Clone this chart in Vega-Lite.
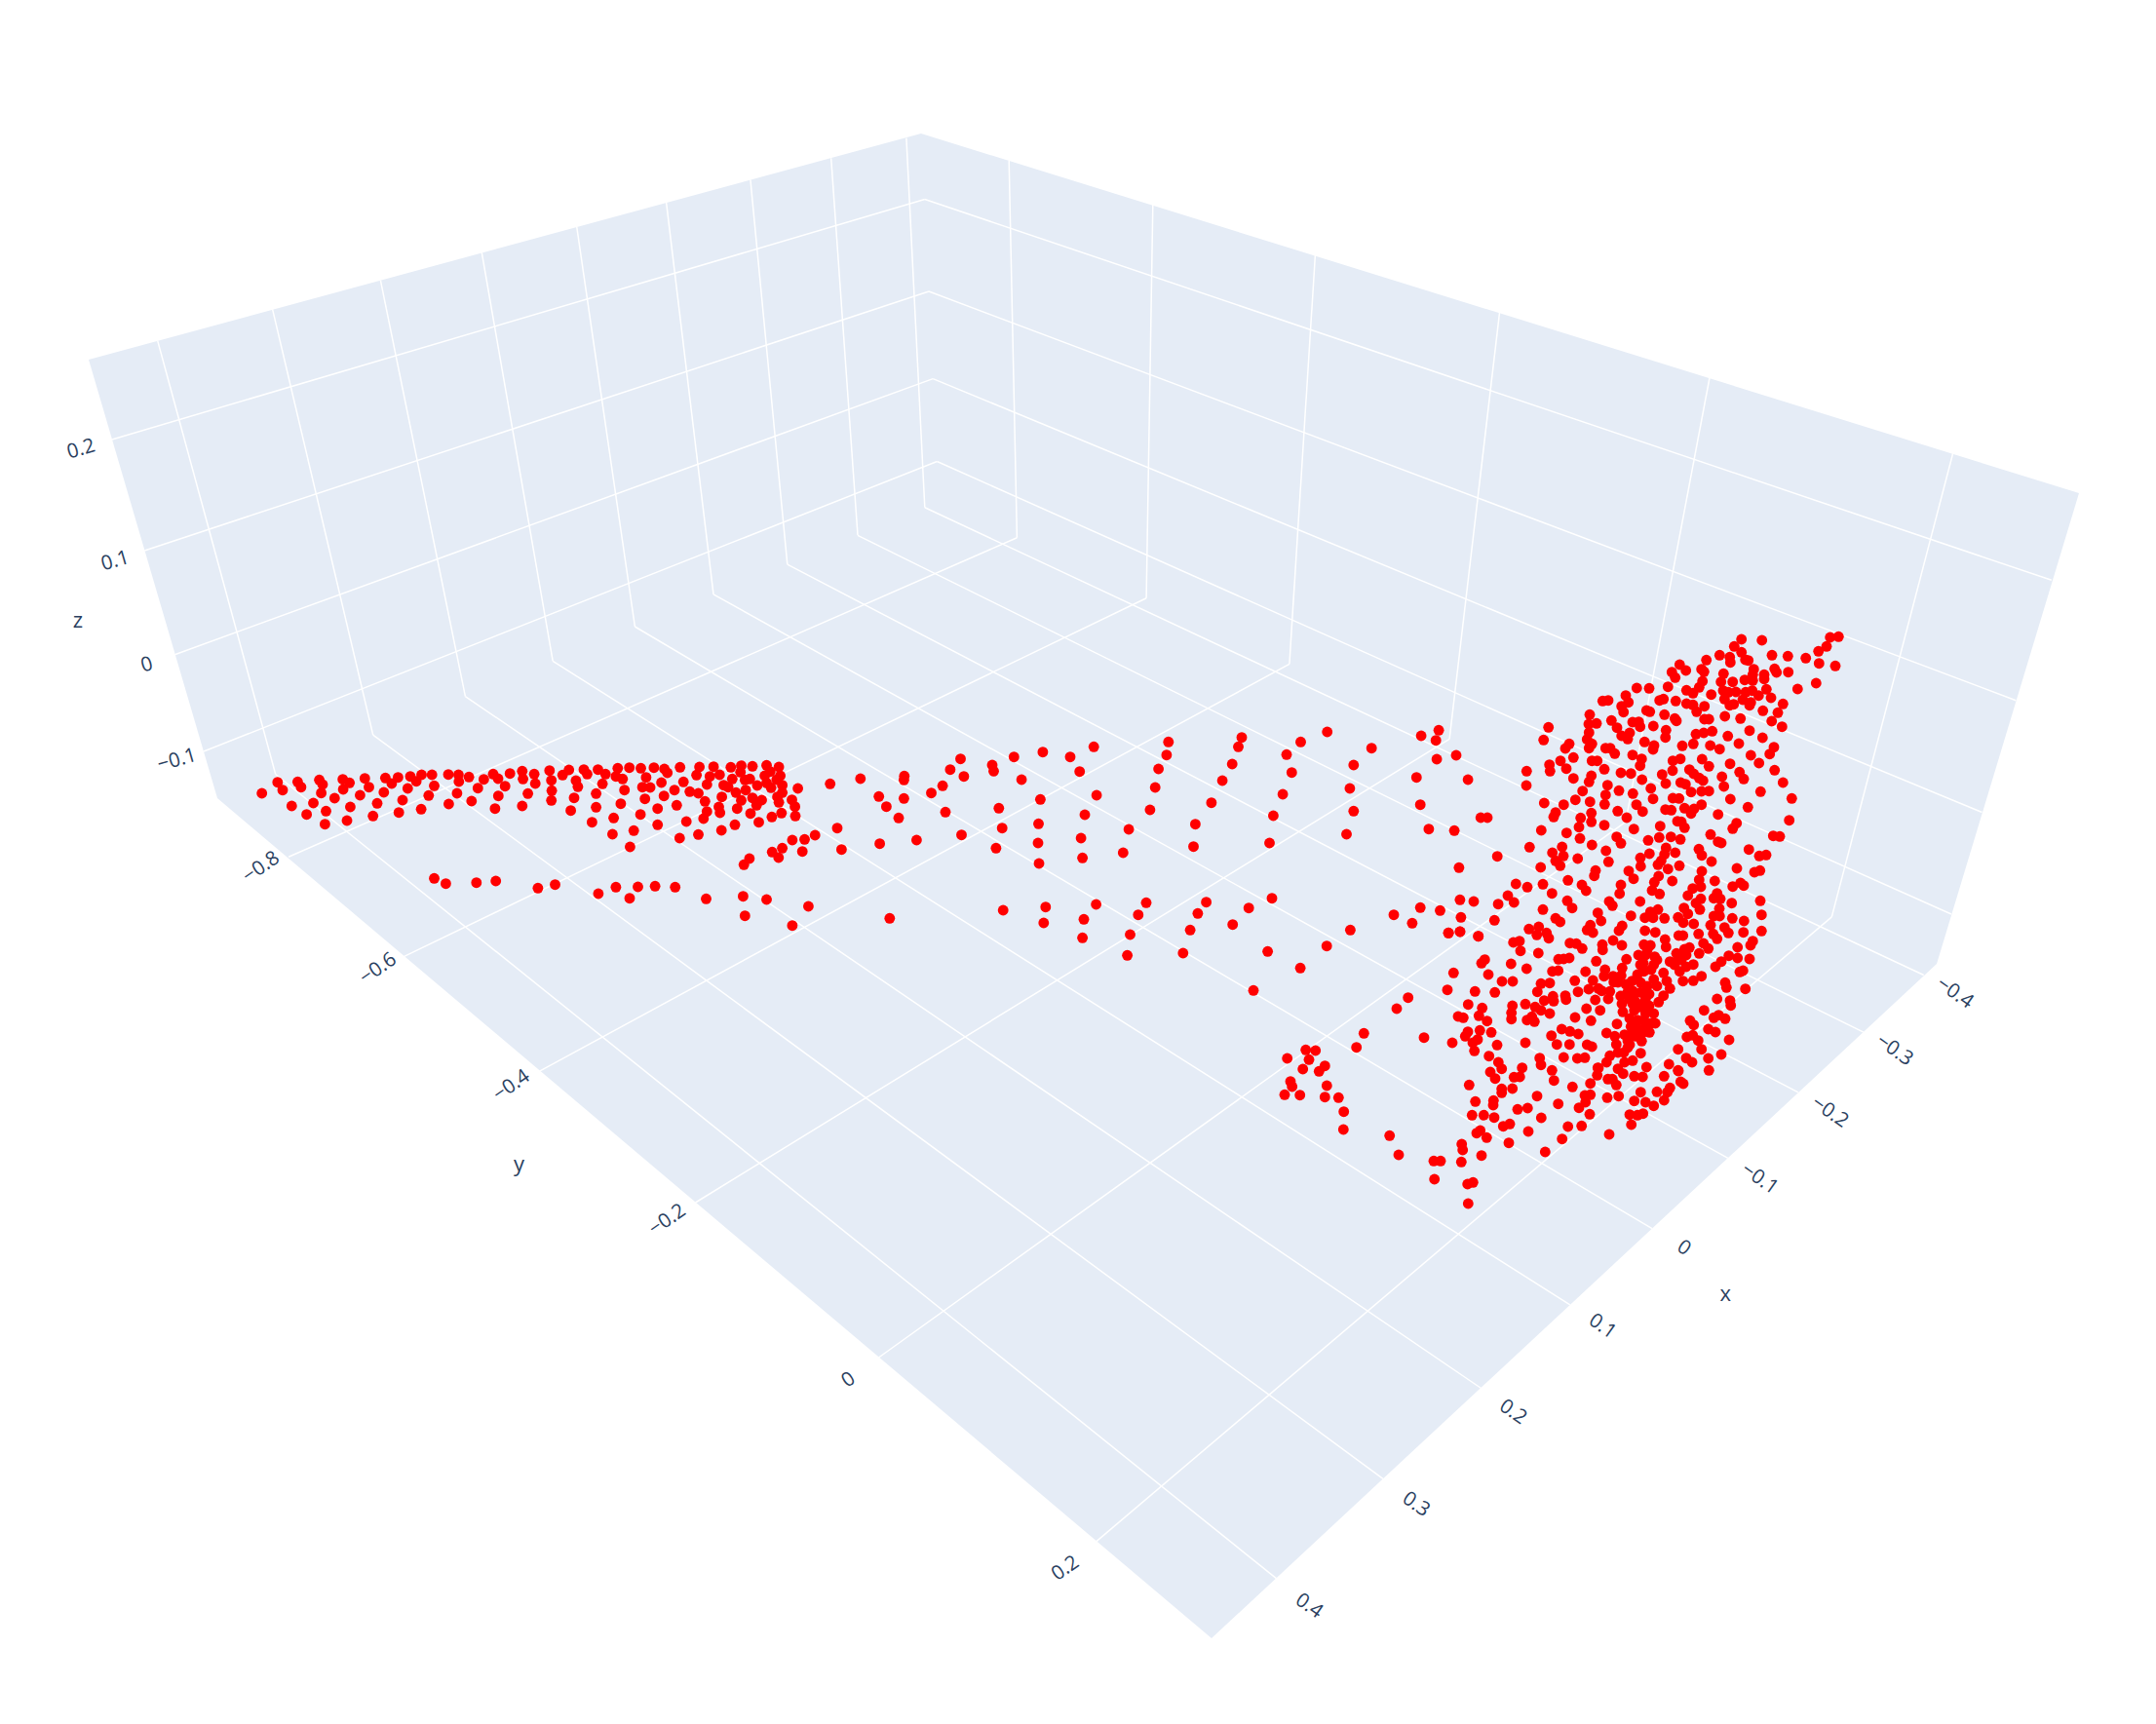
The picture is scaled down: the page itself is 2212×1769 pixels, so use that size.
{"$schema":"https://vega.github.io/schema/vega-lite/v6.json","width":2212,"height":1769,"padding":0,"autosize":"none","background":"white","view":{"stroke":null},
"datasets":{
"box":[{"i":0,"x":91,"y":369},{"i":1,"x":945,"y":137},{"i":2,"x":2133,"y":506},{"i":3,"x":1987,"y":989},{"i":4,"x":1243,"y":1681},{"i":5,"x":223,"y":819}],
"grid":[
{"x":161.7,"y":349.6,"x2":282.7,"y2":794.5},{"x":279.6,"y":317.4,"x2":382.7,"y2":754.1},{"x":390.4,"y":287.6,"x2":477.4,"y2":714.6},{"x":494.2,"y":258.7,"x2":567.2,"y2":678.3},{"x":591.7,"y":232.5,"x2":651.4,"y2":643},{"x":683.6,"y":207.7,"x2":732,"y2":609.9},{"x":769.9,"y":184.3,"x2":807.8,"y2":579.1},{"x":852.7,"y":162.2,"x2":880,"y2":549.3},{"x":929.9,"y":141.6,"x2":948.8,"y2":520.8},
{"x":282.7,"y":794.5,"x2":1309.8,"y2":1619.9},{"x":382.7,"y":754.1,"x2":1418.9,"y2":1517.3},{"x":477.4,"y":714.6,"x2":1519.6,"y2":1424.5},{"x":567.2,"y":678.3,"x2":1610.8,"y2":1338.8},{"x":651.4,"y":643,"x2":1695,"y2":1260.7},{"x":732,"y":609.9,"x2":1772.8,"y2":1188.3},{"x":807.8,"y":579.1,"x2":1844.9,"y2":1120.9},{"x":880,"y":549.3,"x2":1911.9,"y2":1059.2},{"x":948.8,"y":520.8,"x2":1973.7,"y2":1000.5},
{"x":1035.2,"y":164.8,"x2":1043.4,"y2":551.7},{"x":1182.8,"y":210.1,"x2":1176.1,"y2":613.7},{"x":1349.4,"y":261.8,"x2":1322.9,"y2":681.4},{"x":1538.5,"y":320.9,"x2":1487.1,"y2":758.3},{"x":1754,"y":387.5,"x2":1667.8,"y2":843.3},{"x":2003.7,"y":465,"x2":1879.3,"y2":940.9},
{"x":1043.4,"y":551.7,"x2":296.1,"y2":879.2},{"x":1176.1,"y":613.7,"x2":414.7,"y2":981.4},{"x":1322.9,"y":681.4,"x2":553.6,"y2":1099.1},{"x":1487.1,"y":758.3,"x2":713.5,"y2":1234},{"x":1667.8,"y":843.3,"x2":901.5,"y2":1393},{"x":1879.3,"y":940.9,"x2":1124.6,"y2":1581.9},
{"x":115,"y":451,"x2":948.8,"y2":204.5},{"x":948.8,"y":204.5,"x2":2104.8,"y2":595.3},{"x":148.3,"y":565,"x2":953,"y2":299},{"x":953,"y":299,"x2":2068.3,"y2":718.7},{"x":179.3,"y":671.7,"x2":957.2,"y2":388.6},{"x":957.2,"y":388.6,"x2":2033.5,"y2":833.5},{"x":209,"y":771,"x2":961.4,"y2":473.5},{"x":961.4,"y":473.5,"x2":2002,"y2":938}
],
"zl":[{"t":"0.2","x":83.3,"y":461},{"t":"0.1","x":118.3,"y":575.7},{"t":"0","x":150.7,"y":682.3},{"t":"−0.1","x":181.7,"y":780}],
"yl":[{"t":"−0.8","x":268,"y":890},{"t":"−0.6","x":388,"y":994},{"t":"−0.4","x":524.8,"y":1114},{"t":"−0.2","x":684.7,"y":1251.8},{"t":"0","x":870.6,"y":1416},{"t":"0.2","x":1093,"y":1609.4}],
"xl":[{"t":"−0.4","x":2005.6,"y":1018.9},{"t":"−0.3","x":1943.7,"y":1077.6},{"t":"−0.2","x":1877.4,"y":1141.3},{"t":"−0.1","x":1805.4,"y":1209.7},{"t":"0","x":1727.6,"y":1280.6},{"t":"0.1","x":1644,"y":1361.2},{"t":"0.2","x":1552.2,"y":1449},{"t":"0.3","x":1452.7,"y":1543.9},{"t":"0.4","x":1343,"y":1648}],
"titles":[{"t":"z","x":80,"y":637.3},{"t":"y","x":532.5,"y":1195},{"t":"x","x":1770.3,"y":1327.6}],
"pts":[
{"x":268.7,"y":814},{"x":284.8,"y":802.7},{"x":290,"y":810.7},{"x":305.4,"y":802.3},{"x":308.9,"y":807.7},{"x":299.3,"y":827},{"x":314.6,"y":835.7},{"x":321.5,"y":824},{"x":327.6,"y":800.3},{"x":331,"y":805},{"x":329.6,"y":813.7},{"x":334.5,"y":832.3},{"x":333.4,"y":845.7},{"x":343.3,"y":819},{"x":351.7,"y":799.7},{"x":358.6,"y":803.3},{"x":352.1,"y":810},{"x":359.4,"y":828},{"x":356,"y":842},{"x":374.3,"y":798.7},{"x":378.5,"y":807.7},{"x":369.4,"y":816},{"x":387,"y":824.3},{"x":382.7,"y":837.3},{"x":395.4,"y":798.3},{"x":401.9,"y":804},{"x":408.4,"y":797.7},{"x":393.8,"y":813},{"x":418.3,"y":809},{"x":413,"y":821},{"x":409.2,"y":833.7},{"x":421,"y":796.7},{"x":427.1,"y":801.7},{"x":432.5,"y":795},{"x":443.2,"y":795},{"x":445.5,"y":806.3},{"x":439.8,"y":816.3},{"x":432.1,"y":830.3},{"x":460,"y":794.7},{"x":470.4,"y":795},{"x":470.8,"y":802},{"x":481.1,"y":797.3},{"x":468.9,"y":814},{"x":460.4,"y":825},{"x":483.8,"y":822},{"x":496.4,"y":799.7},{"x":490.3,"y":808.7},{"x":506,"y":794.3},{"x":511,"y":799},{"x":523.2,"y":793.7},{"x":518.2,"y":806.7},{"x":511.3,"y":816.7},{"x":507.9,"y":829.7},{"x":535.8,"y":791.3},{"x":536.6,"y":799.3},{"x":548.1,"y":794.3},{"x":549.2,"y":804},{"x":541.6,"y":814.3},{"x":535.8,"y":827},{"x":563.8,"y":790.7},{"x":565.7,"y":800.7},{"x":566.1,"y":811.3},{"x":565.7,"y":821.3},{"x":577.2,"y":795.3},{"x":583.7,"y":790},{"x":590.9,"y":801},{"x":592.9,"y":807.3},{"x":589,"y":818.7},{"x":585.6,"y":831.7},{"x":599,"y":789.7},{"x":602.4,"y":794.3},{"x":613.5,"y":789.7},{"x":621.2,"y":794.3},{"x":618.1,"y":804.3},{"x":611.6,"y":814.3},{"x":611.6,"y":828.3},{"x":607.4,"y":843.7},{"x":629.6,"y":839.3},{"x":628.4,"y":856},{"x":633.8,"y":788.3},{"x":631.9,"y":796.7},{"x":638.8,"y":799.3},{"x":640.7,"y":810.7},{"x":636.9,"y":824.7},{"x":650.2,"y":852.3},{"x":646.4,"y":869},{"x":645.7,"y":787.7},{"x":657.5,"y":788.3},{"x":662.9,"y":797.7},{"x":659.1,"y":807.7},{"x":667.1,"y":808},{"x":661.7,"y":819.7},{"x":657.1,"y":835.7},{"x":670.9,"y":787.7},{"x":681.6,"y":789},{"x":684.7,"y":793},{"x":678.6,"y":803},{"x":692,"y":810.7},{"x":681.2,"y":816.7},{"x":674.7,"y":829.7},{"x":674.7,"y":846.3},{"x":694.3,"y":826.3},{"x":697.7,"y":787.3},{"x":701.2,"y":802.3},{"x":707.7,"y":812.3},{"x":716.5,"y":814},{"x":704.2,"y":843},{"x":697.3,"y":860},{"x":716.5,"y":856.3},{"x":717.6,"y":787},{"x":714.6,"y":795.3},{"x":728.3,"y":796.7},{"x":725.3,"y":805},{"x":723.3,"y":822.3},{"x":725.3,"y":832.7},{"x":721.8,"y":840},{"x":740.2,"y":852},{"x":732.1,"y":786.7},{"x":738.3,"y":795},{"x":742.5,"y":805.7},{"x":747.1,"y":807.7},{"x":740.6,"y":817.7},{"x":737.5,"y":828},{"x":738.7,"y":834},{"x":756.3,"y":829.7},{"x":754,"y":846.3},{"x":749.8,"y":787.3},{"x":751.3,"y":799.3},{"x":755.1,"y":813.3},{"x":760.5,"y":785.7},{"x":759.7,"y":792.3},{"x":764.3,"y":800.3},{"x":769.3,"y":799.3},{"x":765.1,"y":810.7},{"x":760.5,"y":821.3},{"x":772,"y":786.3},{"x":776.9,"y":806},{"x":772,"y":818.7},{"x":776.2,"y":826.3},{"x":781.5,"y":821},{"x":770,"y":834.7},{"x":778.5,"y":843.7},{"x":786.5,"y":785.3},{"x":784.6,"y":796},{"x":790.3,"y":791.7},{"x":786.5,"y":803.3},{"x":791.1,"y":808.3},{"x":799.1,"y":787},{"x":800.6,"y":796},{"x":796.8,"y":800},{"x":802.6,"y":805.7},{"x":802.6,"y":813.3},{"x":797.6,"y":817.7},{"x":799.1,"y":823.3},{"x":791.9,"y":838.3},{"x":801.8,"y":834.3},{"x":818.6,"y":809},{"x":812.5,"y":820.7},{"x":815.6,"y":827.7},{"x":816,"y":837.3},{"x":812.9,"y":862},{"x":825.5,"y":861.3},{"x":836.2,"y":857},{"x":802.6,"y":870.3},{"x":792.2,"y":874.3},{"x":798.8,"y":880},{"x":823.2,"y":873.7},{"x":768.9,"y":881},{"x":763.2,"y":887.3},{"x":445.5,"y":901.3},{"x":457.4,"y":906.7},{"x":488.8,"y":905.7},{"x":508.7,"y":904},{"x":551.9,"y":911.3},{"x":569.5,"y":907.7},{"x":613.9,"y":917},{"x":631.9,"y":910.3},{"x":646,"y":921.7},{"x":654.5,"y":910},{"x":672.1,"y":909.3},{"x":692.7,"y":910.3},{"x":724.5,"y":922.3},{"x":762.4,"y":919.7},{"x":786.5,"y":923},{"x":764.3,"y":939.7},{"x":829.4,"y":930},{"x":812.9,"y":949.7},
{"x":851.7,"y":804.3},{"x":882.8,"y":799},{"x":927.8,"y":796.3},{"x":927.4,"y":800.3},{"x":901.7,"y":817.3},{"x":927.4,"y":819.3},{"x":909.4,"y":827.7},{"x":922,"y":839.3},{"x":859,"y":849.7},{"x":863.4,"y":871.7},{"x":902.6,"y":865.7},{"x":940.4,"y":862},{"x":985.5,"y":778.7},{"x":974.9,"y":789.7},{"x":988.9,"y":796.7},{"x":967.1,"y":806.3},{"x":955.5,"y":813.7},{"x":970,"y":833.3},{"x":986.5,"y":856.7},{"x":1018,"y":785},{"x":1019.5,"y":791.3},{"x":1040.3,"y":776.7},{"x":1048.1,"y":800},{"x":1024.8,"y":829.3},{"x":1067.4,"y":820.3},{"x":1028.2,"y":849.7},{"x":1065.5,"y":845.3},{"x":1021.9,"y":870.3},{"x":1065,"y":865},{"x":1066,"y":886},{"x":1069.9,"y":771.7},{"x":1098,"y":776.7},{"x":1122.2,"y":766.3},{"x":1107.7,"y":791.7},{"x":1125.1,"y":816},{"x":1113,"y":836},{"x":1109.1,"y":860},{"x":1110.6,"y":880.3},{"x":1198.8,"y":761.3},{"x":1196.9,"y":774.7},{"x":1188.6,"y":789},{"x":1185.2,"y":808},{"x":1179.9,"y":831},{"x":1158.1,"y":851},{"x":1152.3,"y":875},{"x":1274,"y":756.7},{"x":1270.5,"y":766.3},{"x":1264.2,"y":784},{"x":1254.1,"y":801},{"x":1242.9,"y":823.7},{"x":1226.4,"y":845.7},{"x":1224.5,"y":868.7},{"x":1334.5,"y":761.3},{"x":1320,"y":774.3},{"x":1325.3,"y":792.7},{"x":1316.1,"y":815},{"x":1306.4,"y":837},{"x":1302.5,"y":865},{"x":1361.7,"y":751},{"x":1407.2,"y":767.7},{"x":1388.8,"y":785},{"x":1384.9,"y":809},{"x":1388.8,"y":832.3},{"x":1381.5,"y":856},{"x":1458.1,"y":755},{"x":1476.1,"y":749.3},{"x":1473.2,"y":759.7},{"x":1474.1,"y":779},{"x":1494,"y":775},{"x":1453.3,"y":797.7},{"x":1506.1,"y":800},{"x":1457.2,"y":825.7},{"x":1465.9,"y":850.7},{"x":1492.1,"y":852.3},{"x":1519.2,"y":839},{"x":1526,"y":839},{"x":1536.2,"y":878.7},{"x":1496.9,"y":890.3},{"x":912.8,"y":942.3},{"x":1029.2,"y":934},{"x":1072.8,"y":930.7},{"x":1070.8,"y":947},{"x":1124.6,"y":928},{"x":1112,"y":943.3},{"x":1110.6,"y":962.3},{"x":1176,"y":926.3},{"x":1167.8,"y":938.7},{"x":1159.5,"y":959},{"x":1156.6,"y":980.3},{"x":1237.6,"y":925.7},{"x":1228.9,"y":937.3},{"x":1221.1,"y":954.3},{"x":1213.8,"y":978},{"x":1281.2,"y":931.7},{"x":1264.7,"y":948.7},{"x":1305,"y":921.7},{"x":1300.6,"y":976.3},{"x":1361.2,"y":970.7},{"x":1385.4,"y":954.3},{"x":1334.1,"y":993.3},{"x":1286,"y":1016.3},{"x":1430,"y":938.7},{"x":1448.9,"y":947.3},{"x":1457.2,"y":931.3},{"x":1477.5,"y":934.3},{"x":1497.9,"y":923.3},{"x":1512,"y":925},{"x":1537.1,"y":927.7},{"x":1498.9,"y":941.3},{"x":1486.2,"y":957.3},{"x":1497.9,"y":956},{"x":1516.8,"y":960.7},{"x":1533.3,"y":944.3},
{"x":1588.7,"y":746.3},{"x":1583.7,"y":759.3},{"x":1610,"y":763.3},{"x":1606,"y":768},{"x":1614.3,"y":777.3},{"x":1601,"y":780.7},{"x":1589.7,"y":784.7},{"x":1590.3,"y":791.3},{"x":1607,"y":788.7},{"x":1566.3,"y":791.3},{"x":1566,"y":806},{"x":1614.3,"y":798.7},{"x":1631,"y":733.3},{"x":1638,"y":742.3},{"x":1630,"y":743},{"x":1630.3,"y":751.7},{"x":1628.3,"y":758.7},{"x":1633.3,"y":763.3},{"x":1630.3,"y":767.7},{"x":1633.3,"y":780.7},{"x":1638.7,"y":780.7},{"x":1646,"y":789.3},{"x":1632.7,"y":796},{"x":1630.3,"y":802.3},{"x":1623.7,"y":811.7},{"x":1616.3,"y":820.7},{"x":1631.3,"y":822.7},{"x":1604.3,"y":825.7},{"x":1584.3,"y":824},{"x":1596,"y":833.7},{"x":1594,"y":838.3},{"x":1632.7,"y":834.3},{"x":1621.7,"y":839.3},{"x":1632.7,"y":843.3},{"x":1620,"y":848.7},{"x":1581.3,"y":852},{"x":1607.3,"y":854.7},{"x":1621,"y":860.3},{"x":1569.3,"y":869.3},{"x":1633.3,"y":867},{"x":1602.7,"y":869},{"x":1592.7,"y":875},{"x":1604,"y":878.3},{"x":1618.7,"y":881},{"x":1596,"y":883.3},{"x":1600.7,"y":888.3},{"x":1580.7,"y":890},{"x":1644.3,"y":719.3},{"x":1650,"y":718.7},{"x":1668,"y":713.7},{"x":1670.7,"y":720.7},{"x":1663.7,"y":724.7},{"x":1665.7,"y":730.7},{"x":1679.3,"y":706},{"x":1692,"y":706.3},{"x":1653.3,"y":739.3},{"x":1659,"y":746.7},{"x":1663.7,"y":755},{"x":1672,"y":752},{"x":1670,"y":758.3},{"x":1675,"y":741},{"x":1681.3,"y":740.7},{"x":1682.7,"y":745.7},{"x":1696.3,"y":745},{"x":1689.3,"y":729},{"x":1692.7,"y":730.3},{"x":1707.7,"y":733.3},{"x":1702.7,"y":718.7},{"x":1706.7,"y":717.3},{"x":1719.3,"y":719.3},{"x":1711.3,"y":704.7},{"x":1715.3,"y":689.7},{"x":1718.7,"y":695.3},{"x":1723.3,"y":682},{"x":1729.7,"y":688},{"x":1730.3,"y":708.3},{"x":1737,"y":711.3},{"x":1743.3,"y":705.3},{"x":1746.7,"y":699},{"x":1745.7,"y":686.7},{"x":1748.3,"y":689.3},{"x":1750.7,"y":677.3},{"x":1755.7,"y":712.7},{"x":1730.3,"y":722},{"x":1737,"y":723.3},{"x":1740.7,"y":730.3},{"x":1748.7,"y":724.7},{"x":1718.3,"y":737.3},{"x":1720,"y":739.7},{"x":1748.7,"y":738},{"x":1753.3,"y":738},{"x":1709.3,"y":749.3},{"x":1708.7,"y":756.7},{"x":1740,"y":753.3},{"x":1748,"y":752},{"x":1756.7,"y":750.3},{"x":1687.3,"y":761.3},{"x":1697,"y":765},{"x":1696,"y":769},{"x":1726,"y":765.3},{"x":1737.3,"y":763.3},{"x":1754.7,"y":765},{"x":1764.3,"y":768.7},{"x":1772.7,"y":755.3},{"x":1784,"y":763},{"x":1795,"y":749.7},{"x":1808.3,"y":757},{"x":1769.7,"y":735},{"x":1785.7,"y":737.3},{"x":1764.3,"y":672.3},{"x":1774.7,"y":674.3},{"x":1775.3,"y":679.7},{"x":1779.3,"y":663.3},{"x":1786.7,"y":656},{"x":1807.7,"y":657},{"x":1786.7,"y":669.3},{"x":1790.7,"y":677},{"x":1793.7,"y":677.7},{"x":1818,"y":672.3},{"x":1834.3,"y":673.3},{"x":1852.7,"y":675.3},{"x":1865.7,"y":668.3},{"x":1874,"y":663.3},{"x":1877.7,"y":654},{"x":1886.3,"y":653.3},{"x":1866.3,"y":680.7},{"x":1883,"y":683.3},{"x":1863.3,"y":701},{"x":1844.3,"y":707},{"x":1834.7,"y":689.7},{"x":1820.7,"y":686.3},{"x":1822.7,"y":690},{"x":1799.3,"y":686.7},{"x":1798.3,"y":692.3},{"x":1798.3,"y":698.3},{"x":1790,"y":697.7},{"x":1810,"y":692.3},{"x":1810,"y":696.7},{"x":1768.3,"y":691.3},{"x":1765.7,"y":699.7},{"x":1777.7,"y":699.7},{"x":1768,"y":708.7},{"x":1773.3,"y":710.3},{"x":1781,"y":710},{"x":1791,"y":710.3},{"x":1797.7,"y":708.7},{"x":1769.3,"y":717.3},{"x":1788,"y":718},{"x":1804.3,"y":713.7},{"x":1812.3,"y":707.3},{"x":1817,"y":716},{"x":1774.7,"y":723.7},{"x":1778.7,"y":722.7},{"x":1795,"y":723.7},{"x":1796.3,"y":720.7},{"x":1808.7,"y":729.3},{"x":1829.3,"y":722.3},{"x":1824,"y":731.3},{"x":1817.7,"y":740},{"x":1828.3,"y":745.7},{"x":1820,"y":766.7},{"x":1815.7,"y":773.7},{"x":1796.3,"y":775},{"x":1804.7,"y":783},{"x":1820.7,"y":790.3},{"x":1829.3,"y":803},{"x":1806.3,"y":812.3},{"x":1838.3,"y":819.3},{"x":1835.7,"y":841.7},{"x":1819.3,"y":857.7},{"x":1826,"y":858.3},{"x":1793.3,"y":828.3},{"x":1775.3,"y":820},{"x":1762.7,"y":835.7},{"x":1781.7,"y":844.7},{"x":1777.7,"y":850.3},{"x":1755,"y":856.3},{"x":1762.7,"y":863.7},{"x":1766,"y":865},{"x":1794.3,"y":871.7},{"x":1805,"y":878.3},{"x":1812,"y":877.3},{"x":1782,"y":891},{"x":1800,"y":895},{"x":1805.7,"y":893.3},{"x":1743,"y":871.3},{"x":1746,"y":877.7},{"x":1756,"y":884},{"x":1746,"y":894},{"x":1647.3,"y":767.7},{"x":1652,"y":767.7},{"x":1656.7,"y":773.3},{"x":1675,"y":774.7},{"x":1684.3,"y":778.7},{"x":1682.7,"y":785.7},{"x":1663,"y":793},{"x":1673.3,"y":793.7},{"x":1684.7,"y":800},{"x":1705.3,"y":794.7},{"x":1709,"y":804},{"x":1716.3,"y":780.7},{"x":1724,"y":778.7},{"x":1716,"y":790.7},{"x":1746.3,"y":779},{"x":1753.3,"y":786.3},{"x":1775,"y":783.7},{"x":1784.7,"y":792.3},{"x":1789,"y":799.3},{"x":1766.7,"y":797},{"x":1768.7,"y":807},{"x":1733.3,"y":789.7},{"x":1737.7,"y":794},{"x":1743.3,"y":798.3},{"x":1747.3,"y":801},{"x":1724.3,"y":803},{"x":1729.3,"y":804.7},{"x":1735,"y":812.7},{"x":1745.7,"y":812},{"x":1753.3,"y":811.7},{"x":1716.3,"y":819},{"x":1722.7,"y":819.3},{"x":1745.7,"y":825.7},{"x":1728.3,"y":829.3},{"x":1738,"y":830},{"x":1735,"y":834.7},{"x":1708.7,"y":830.7},{"x":1714.7,"y":831.3},{"x":1721,"y":842.7},{"x":1725,"y":843.3},{"x":1728.3,"y":849.3},{"x":1703.3,"y":847.7},{"x":1702.3,"y":859.3},{"x":1714.3,"y":858.7},{"x":1724,"y":861.3},{"x":1709.3,"y":870},{"x":1707.7,"y":876.7},{"x":1718.7,"y":875},{"x":1704.3,"y":883.3},{"x":1701,"y":887.3},{"x":1723,"y":888.3},{"x":1711.3,"y":891.7},{"x":1649.3,"y":805.7},{"x":1647.3,"y":815.7},{"x":1646.3,"y":825.3},{"x":1661,"y":811.3},{"x":1675.3,"y":814.3},{"x":1693.7,"y":809},{"x":1696,"y":819.7},{"x":1679,"y":825.7},{"x":1685.3,"y":832.7},{"x":1659.7,"y":832.3},{"x":1669,"y":839},{"x":1646,"y":846.7},{"x":1676.3,"y":850.7},{"x":1658.7,"y":858.7},{"x":1663,"y":865.3},{"x":1691,"y":862.3},{"x":1647.7,"y":873},{"x":1650.3,"y":884.3},{"x":1692.3,"y":876},{"x":1683,"y":880.3},{"x":1683.3,"y":889},{"x":1671,"y":893.7},{"x":1676,"y":901.7},{"x":1637,"y":893.3},{"x":1635.7,"y":898.7},{"x":1701.7,"y":899},
{"x":1555.3,"y":907},{"x":1567,"y":910.3},{"x":1583,"y":907.3},{"x":1592.3,"y":916.7},{"x":1608.7,"y":903.3},{"x":1623,"y":908},{"x":1627.3,"y":914},{"x":1663,"y":908},{"x":1661.7,"y":917},{"x":1697.3,"y":905.3},{"x":1695,"y":913.7},{"x":1702.7,"y":917.3},{"x":1715.7,"y":904},{"x":1743.3,"y":902.7},{"x":1736.7,"y":911.7},{"x":1731.7,"y":919},{"x":1745,"y":910},{"x":1759.3,"y":904},{"x":1777.7,"y":909.7},{"x":1785.7,"y":906},{"x":1789,"y":908.7},{"x":1761.7,"y":916.7},{"x":1758.3,"y":921.7},{"x":1765,"y":922.3},{"x":1745,"y":922.3},{"x":1740,"y":926.7},{"x":1744,"y":933.3},{"x":1776.7,"y":926.7},{"x":1806,"y":924.3},{"x":1807.3,"y":938.7},{"x":1807.3,"y":955.3},{"x":1789.3,"y":945},{"x":1777.3,"y":942.3},{"x":1764,"y":932.3},{"x":1764.3,"y":940},{"x":1758.3,"y":940},{"x":1755,"y":949.3},{"x":1769.3,"y":951.7},{"x":1773.3,"y":957.3},{"x":1757.7,"y":958.3},{"x":1761.7,"y":963.3},{"x":1788.7,"y":956.7},{"x":1798.3,"y":965.7},{"x":1796,"y":970},{"x":1782.7,"y":972},{"x":1782.7,"y":983},{"x":1795,"y":984},{"x":1773.7,"y":980.7},{"x":1766,"y":986.7},{"x":1760,"y":992},{"x":1788.3,"y":996},{"x":1785,"y":997.3},{"x":1790.7,"y":1014.7},{"x":1770,"y":1008.3},{"x":1771.3,"y":1013.3},{"x":1737.3,"y":989.7},{"x":1745.7,"y":1001.7},{"x":1737.3,"y":1006.3},{"x":1727.7,"y":931.7},{"x":1731.7,"y":937.7},{"x":1721.7,"y":941.3},{"x":1727,"y":946.7},{"x":1737.7,"y":948},{"x":1722.3,"y":960},{"x":1726.7,"y":960},{"x":1742.7,"y":958.3},{"x":1747.7,"y":968},{"x":1752.7,"y":973.3},{"x":1743.3,"y":978.3},{"x":1733.3,"y":972.3},{"x":1728.3,"y":974},{"x":1720,"y":978.3},{"x":1725,"y":985},{"x":1713.3,"y":986.7},{"x":1723.3,"y":996.7},{"x":1726.7,"y":1006.7},{"x":1713.3,"y":1014.3},{"x":1708.3,"y":964},{"x":1709.3,"y":971.7},{"x":1698.3,"y":956.7},{"x":1687.7,"y":955},{"x":1701,"y":933.3},{"x":1693.3,"y":935.7},{"x":1687.7,"y":941.7},{"x":1707.7,"y":942.3},{"x":1696,"y":941.7},{"x":1673.3,"y":939.7},{"x":1682.7,"y":925},{"x":1639.3,"y":936.7},{"x":1642.7,"y":945},{"x":1664.3,"y":950},{"x":1661,"y":955},{"x":1631.7,"y":949.3},{"x":1628.3,"y":954.3},{"x":1634.3,"y":957},{"x":1651,"y":925},{"x":1654.3,"y":929.3},{"x":1608,"y":924.3},{"x":1613,"y":931.7},{"x":1583,"y":933.3},{"x":1596,"y":942.3},{"x":1600.7,"y":946},{"x":1568.7,"y":953.3},{"x":1578.7,"y":951},{"x":1576.7,"y":959.3},{"x":1586.7,"y":957.3},{"x":1589,"y":962.7},{"x":1552.7,"y":967},{"x":1559,"y":965.7},{"x":1560,"y":975.7},{"x":1578.3,"y":978},{"x":1610.7,"y":967.7},{"x":1617.3,"y":968.3},{"x":1623.3,"y":973.3},{"x":1644,"y":969.3},{"x":1644.3,"y":974.7},{"x":1655,"y":965},{"x":1664,"y":970},{"x":1686.7,"y":969.3},{"x":1693.3,"y":970},{"x":1681,"y":980},{"x":1688.3,"y":980},{"x":1697.7,"y":981.7},{"x":1668.7,"y":984.3},{"x":1637.7,"y":986.3},{"x":1599,"y":984.3},{"x":1604.3,"y":984},{"x":1610,"y":983},{"x":1626.7,"y":997},{"x":1592.7,"y":996.7},{"x":1598.7,"y":996},{"x":1566.3,"y":994},{"x":1550.3,"y":989},{"x":1523.3,"y":984.7},{"x":1520,"y":988.3},{"x":1527,"y":1000},{"x":1541,"y":1007},{"x":1552,"y":1007},{"x":1491.3,"y":998.3},{"x":1485,"y":1015.7},{"x":1513.3,"y":1017.3},{"x":1533.7,"y":1018.3},{"x":1581,"y":1009.3},{"x":1590,"y":1008.7},{"x":1577.3,"y":1017.7},{"x":1615.7,"y":1006.3},{"x":1619,"y":1017.7},{"x":1634.3,"y":1006},{"x":1630,"y":1015},{"x":1640,"y":1014.3},{"x":1646.7,"y":995},{"x":1645.7,"y":1001.7},{"x":1655.7,"y":1007.7},{"x":1655,"y":1001.7},{"x":1664.3,"y":993.3},{"x":1663.3,"y":1001},{"x":1651.7,"y":1017.3},{"x":1650,"y":1025},{"x":1643.3,"y":1016.7},{"x":1636.7,"y":1026},{"x":1662.7,"y":1022},{"x":1674.3,"y":1006.7},{"x":1683.3,"y":1008.3},{"x":1686.7,"y":996.7},{"x":1686,"y":988.3},{"x":1696.7,"y":990},{"x":1696.7,"y":1005},{"x":1700,"y":1011.7},{"x":1706.7,"y":998.3},{"x":1710,"y":1006.7},{"x":1675,"y":1016.7},{"x":1683.3,"y":1018.3},{"x":1671.7,"y":1025},{"x":1678.3,"y":1028.3},{"x":1688.3,"y":1025},{"x":1701.7,"y":1028.3},{"x":1706.7,"y":1021.7},{"x":1593.3,"y":1022.3},{"x":1594,"y":1027.3},{"x":1584.3,"y":1026.7},{"x":1606,"y":1021.7},{"x":1606.7,"y":1025.7},{"x":1565,"y":1030.3},{"x":1575,"y":1033.3},{"x":1551.7,"y":1032},{"x":1550.7,"y":1039.3},{"x":1550.7,"y":1045.7},{"x":1581,"y":1036.7},{"x":1590,"y":1040},{"x":1566.7,"y":1046.7},{"x":1571.7,"y":1043.3},{"x":1574.3,"y":1048.3},{"x":1506.3,"y":1030.7},{"x":1520.7,"y":1034.3},{"x":1517.3,"y":1042.3},{"x":1525.7,"y":1047.7},{"x":1496,"y":1043},{"x":1501.3,"y":1044.3},{"x":1627.7,"y":1035},{"x":1641.7,"y":1036.7},{"x":1616,"y":1044},{"x":1632.3,"y":1047.3},{"x":1665,"y":1038.3},{"x":1659,"y":1050.7},{"x":1676.7,"y":1036.7},{"x":1683.3,"y":1033.3},{"x":1688.3,"y":1040},{"x":1696.7,"y":1040},{"x":1680,"y":1046.7},{"x":1686.7,"y":1046.7},{"x":1698.3,"y":1050},{"x":1673.3,"y":1053.3},{"x":1680,"y":1055},{"x":1688.3,"y":1053.3},{"x":1692.3,"y":1059.3},{"x":1666.7,"y":1061.7},{"x":1673.3,"y":1061.7},{"x":1678.3,"y":1063.3},{"x":1684.3,"y":1068.3},{"x":1648.3,"y":1060},{"x":1656.7,"y":1063.3},{"x":1658.3,"y":1071.7},{"x":1660,"y":1080},{"x":1670,"y":1075},{"x":1683.3,"y":1080.7},{"x":1675,"y":1088.3},{"x":1666.7,"y":1090},{"x":1651.7,"y":1083.3},{"x":1648.3,"y":1090},{"x":1639.3,"y":1095.7},{"x":1660,"y":1096.7},{"x":1689.3,"y":1095},{"x":1602.3,"y":1056},{"x":1610.7,"y":1058.3},{"x":1619.3,"y":1061},{"x":1591.7,"y":1062.7},{"x":1597.3,"y":1071.7},{"x":1610.3,"y":1071.7},{"x":1628.3,"y":1072},{"x":1633.3,"y":1074},{"x":1604.3,"y":1085},{"x":1618.3,"y":1086},{"x":1626,"y":1085.3},{"x":1565,"y":1070},{"x":1579.7,"y":1085.7},{"x":1581,"y":1092.7},{"x":1561.7,"y":1095.7},{"x":1592.3,"y":1098.3},{"x":1518.3,"y":1057.3},{"x":1530,"y":1059.3},{"x":1506,"y":1058.7},{"x":1503.3,"y":1063.3},{"x":1516,"y":1066.7},{"x":1511,"y":1070},{"x":1512.7,"y":1078.3},{"x":1490,"y":1070},{"x":1536,"y":1072.3},{"x":1527.7,"y":1083.7},{"x":1537.3,"y":1090},{"x":1540.7,"y":1096.7},{"x":1529,"y":1100},{"x":1761.7,"y":1025},{"x":1775,"y":1026.7},{"x":1775.7,"y":1031.7},{"x":1748.3,"y":1036.7},{"x":1763.3,"y":1041.7},{"x":1770,"y":1045.3},{"x":1758.3,"y":1044.3},{"x":1734,"y":1047.3},{"x":1737.7,"y":1051.7},{"x":1752.7,"y":1056},{"x":1760,"y":1059},{"x":1730.7,"y":1064},{"x":1736.7,"y":1062.3},{"x":1742.3,"y":1067.7},{"x":1774,"y":1067},{"x":1745.7,"y":1076.7},{"x":1721.7,"y":1076.7},{"x":1766,"y":1082},{"x":1730,"y":1085.7},{"x":1736,"y":1090},{"x":1752.7,"y":1086},{"x":1712.3,"y":1092},{"x":1721.7,"y":1098.3},{"x":1753.3,"y":1098.3},{"x":1486,"y":957.3},{"x":1498,"y":956},{"x":1516.7,"y":960.7},{"x":1547,"y":919},{"x":1553.3,"y":926},
{"x":1444.7,"y":1023.7},{"x":1433,"y":1035},{"x":1399.3,"y":1060.3},{"x":1391.7,"y":1074.7},{"x":1461,"y":1064.7},{"x":1339.7,"y":1077.3},{"x":1349.7,"y":1078},{"x":1320.7,"y":1086},{"x":1343,"y":1087.3},{"x":1336.7,"y":1097},{"x":1359.3,"y":1093.7},{"x":1353.3,"y":1099.3},{"x":1324,"y":1109.7},{"x":1325.7,"y":1115},{"x":1318,"y":1123.3},{"x":1333.7,"y":1123.7},{"x":1361.3,"y":1114},{"x":1359.3,"y":1125.7},{"x":1373.3,"y":1126.3},{"x":1378.7,"y":1140.7},{"x":1378.3,"y":1159},{"x":1425.7,"y":1165.3},{"x":1435,"y":1185},{"x":1471,"y":1191.3},{"x":1478,"y":1191.3},{"x":1471.7,"y":1210},{"x":1505.7,"y":1215},{"x":1511.3,"y":1213.3},{"x":1506.3,"y":1235},{"x":1499.7,"y":1174},{"x":1500.7,"y":1180},{"x":1499.3,"y":1192.3},{"x":1520,"y":1185.7},{"x":1507.3,"y":1113.3},{"x":1513.7,"y":1130.3},{"x":1510.3,"y":1144.3},{"x":1522.3,"y":1144.3},{"x":1533,"y":1146.7},{"x":1532.3,"y":1129.3},{"x":1532,"y":1134},{"x":1540.7,"y":1117.3},{"x":1540.7,"y":1121.3},{"x":1551.7,"y":1117},{"x":1515,"y":1162.7},{"x":1518.7,"y":1160},{"x":1525.3,"y":1167.3},{"x":1542.3,"y":1155.7},{"x":1549,"y":1153.3},{"x":1548,"y":1172.7},{"x":1568,"y":1161},{"x":1585.3,"y":1182},{"x":1557,"y":1138.3},{"x":1567.3,"y":1137},{"x":1581.3,"y":1147},{"x":1577,"y":1124.7},{"x":1598.7,"y":1132.7},{"x":1608.7,"y":1156},{"x":1602.7,"y":1168.7},{"x":1622.7,"y":1155.3},{"x":1631,"y":1143.3},{"x":1620,"y":1136.7},{"x":1626.7,"y":1131},{"x":1626,"y":1124},{"x":1631.7,"y":1123.3},{"x":1613.3,"y":1115.3},{"x":1631.7,"y":1111.7},{"x":1651,"y":1164},{"x":1649,"y":1126.3},{"x":1660.7,"y":1124.7},{"x":1673.7,"y":1154},{"x":1672,"y":1143.7},{"x":1680,"y":1144.3},{"x":1685.7,"y":1142.7},{"x":1676.7,"y":1129.7},{"x":1683.3,"y":1120.7},{"x":1688.3,"y":1131},{"x":1696.7,"y":1134.7},{"x":1700,"y":1120.3},{"x":1707.3,"y":1129},{"x":1710.7,"y":1120.7},{"x":1713.3,"y":1116.3},{"x":1707.3,"y":1104.3},{"x":1722,"y":1099},{"x":1724.3,"y":1110},{"x":1727,"y":1112},{"x":1649.7,"y":1107.3},{"x":1654.3,"y":1107.3},{"x":1658.3,"y":1113.3},{"x":1638.7,"y":1103.3},{"x":1640,"y":1096},{"x":1665.3,"y":1101.7},{"x":1676.7,"y":1104.3},{"x":1685.3,"y":1105},{"x":1534,"y":1106.7},{"x":1553.3,"y":1105.3},{"x":1559.3,"y":1105},{"x":1594.3,"y":1108.7},
{"x":1680,"y":1000},{"x":1690,"y":1012},{"x":1675,"y":1030},{"x":1692,"y":1032},{"x":1672,"y":1045},{"x":1670,"y":1068},{"x":1683,"y":990},{"x":1694,"y":995},{"x":1690,"y":975},{"x":1700,"y":985},{"x":1722,"y":985},{"x":1730,"y":980},{"x":1718,"y":990},{"x":1730,"y":992},{"x":1668,"y":1010},{"x":1660,"y":1008},{"x":1692,"y":1020},{"x":1670,"y":1018},{"x":1664,"y":1030},{"x":1672,"y":1072},{"x":1666,"y":1080},{"x":1677,"y":1020},{"x":1686,"y":1030},{"x":1694,"y":1050},{"x":1685,"y":1060}
]},
"encoding":{
"x":{"field":"x","type":"quantitative","scale":{"domain":[0,2212]},"axis":null},
"y":{"field":"y","type":"quantitative","scale":{"domain":[1769,0]},"axis":null}
},
"layer":[
{"data":{"name":"box"},"mark":{"type":"line","fill":"#E5ECF6","stroke":null,"strokeWidth":0},"encoding":{"order":{"field":"i","type":"ordinal"}}},
{"data":{"name":"grid"},"mark":{"type":"rule","stroke":"white","strokeWidth":1.5},"encoding":{"x2":{"field":"x2"},"y2":{"field":"y2"}}},
{"data":{"name":"pts"},"mark":{"type":"circle","color":"#ff0000","opacity":1,"size":118}},
{"data":{"name":"zl"},"mark":{"type":"text","font":"Open Sans","fontSize":20.5,"color":"#2a3f5f","angle":344,"align":"center","baseline":"middle"},"encoding":{"text":{"field":"t"}}},
{"data":{"name":"yl"},"mark":{"type":"text","font":"Open Sans","fontSize":20.5,"color":"#2a3f5f","angle":325,"align":"center","baseline":"middle"},"encoding":{"text":{"field":"t"}}},
{"data":{"name":"xl"},"mark":{"type":"text","font":"Open Sans","fontSize":20.5,"color":"#2a3f5f","angle":35,"align":"center","baseline":"middle"},"encoding":{"text":{"field":"t"}}},
{"data":{"name":"titles"},"mark":{"type":"text","font":"Open Sans","fontSize":22,"color":"#2a3f5f","align":"center","baseline":"middle"},"encoding":{"text":{"field":"t"}}}
]}
